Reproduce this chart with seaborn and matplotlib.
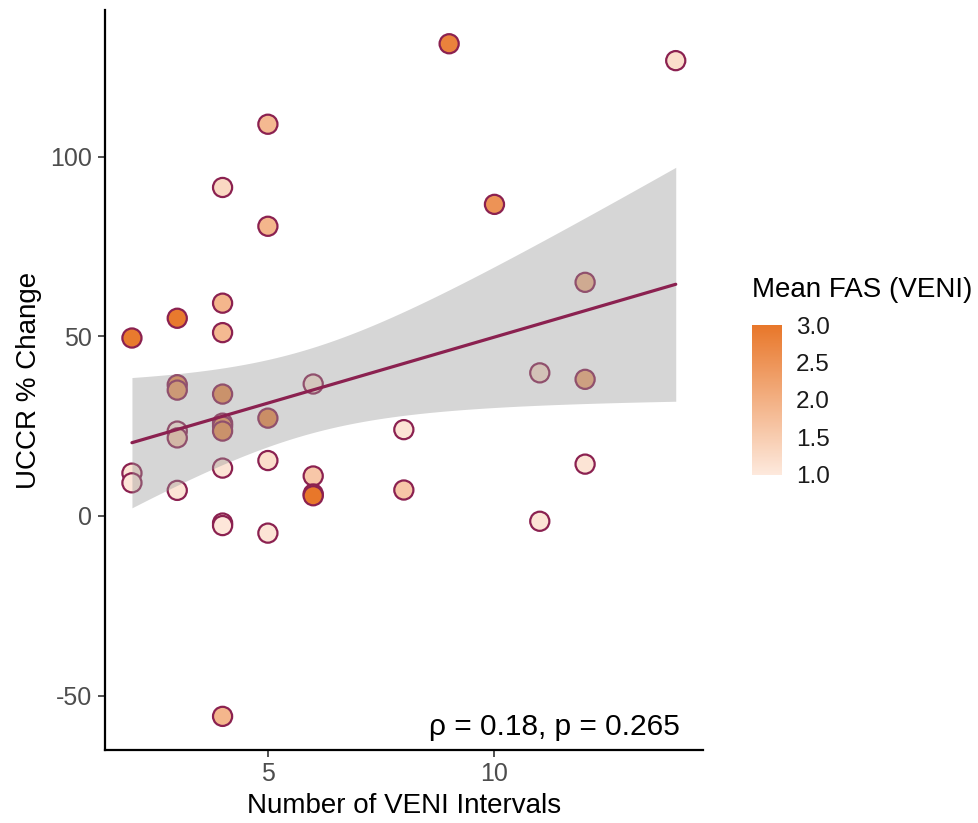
import numpy as np
import pandas as pd
import matplotlib
matplotlib.use("Agg")
import matplotlib.pyplot as plt
import seaborn as sns
from matplotlib.colors import LinearSegmentedColormap, Normalize
from matplotlib.cm import ScalarMappable

# ---- data ----
intervals = [2, 2, 2,
             3, 3, 3, 3, 3, 3,
             4, 4, 4, 4, 4, 4, 4, 4, 4, 4, 4,
             5, 5, 5, 5, 5,
             6, 6, 6, 6,
             8, 8,
             9,
             10,
             11, 11,
             12, 12, 12,
             14]
uccr = [11.9, 9.2, 49.5,
        55.0, 36.5, 35.0, 23.6, 21.7, 7.1,
        91.4, 59.2, 51.0, 33.9, 25.8, 25.0, 23.6, 13.3, -2.0, -2.7, -55.8,
        109.0, 80.6, 27.2, 15.4, -4.8,
        36.7, 11.1, 6.1, 5.6,
        24.0, 7.2,
        131.4,
        86.7,
        39.8, -1.5,
        65.0, 38.0, 14.4,
        126.7]
mean_fas = [1.1, 1.05, 2.95,
            2.95, 2.6, 2.4, 1.0, 1.5, 1.1,
            1.3, 1.9, 1.85, 2.6, 1.6, 2.5, 2.6, 1.1, 1.1, 1.05, 1.9,
            1.85, 1.9, 2.7, 1.2, 1.1,
            1.1, 1.6, 2.9, 3.0,
            1.1, 1.6,
            2.8,
            2.5,
            1.2, 1.1,
            1.9, 2.2, 1.1,
            1.2]
x_ticks = [5, 10]
y_ticks = [-50, 0, 50, 100]
cbar_ticks = [1.0, 1.5, 2.0, 2.5, 3.0]
annot_text = "\u03c1 = 0.18, p = 0.265"
xlabel = "Number of VENI Intervals"
ylabel = "UCCR % Change"
legend_title = "Mean FAS (VENI)"

df = pd.DataFrame({"intervals": intervals, "uccr": uccr, "fas": mean_fas})

sns.set_theme(style="white")
plt.rcParams["font.family"] = ["Liberation Sans", "DejaVu Sans"]
plt.rcParams["axes.unicode_minus"] = False

low_c, high_c = "#FDE9DD", "#E8772A"
edge_c = "#8B2150"
cmap = LinearSegmentedColormap.from_list("fas", [low_c, high_c])
norm = Normalize(vmin=min(mean_fas), vmax=max(mean_fas))

fig = plt.figure(figsize=(9.79, 8.23), dpi=100)
ax = fig.add_axes([0.107, 0.0887, 0.611, 0.899])

sns.scatterplot(data=df, x="intervals", y="uccr", hue="fas", palette=cmap,
                hue_norm=norm, s=190, edgecolor=edge_c, linewidth=1.6,
                legend=False, ax=ax, zorder=2)

# linear fit with analytic 95% CI (like geom_smooth(method = "lm"))
xv = np.asarray(intervals, float)
yv = np.asarray(uccr, float)
n = len(xv)
b1, b0 = np.polyfit(xv, yv, 1)
resid = yv - (b0 + b1 * xv)
s_err = np.sqrt(np.sum(resid ** 2) / (n - 2))
try:
    from scipy import stats
    tval = stats.t.ppf(0.975, n - 2)
except Exception:
    tval = 2.026
grid = np.linspace(xv.min(), xv.max(), 200)
pred = b0 + b1 * grid
se = s_err * np.sqrt(1.0 / n + (grid - xv.mean()) ** 2 / np.sum((xv - xv.mean()) ** 2))
ax.fill_between(grid, pred - tval * se, pred + tval * se, color="#999999",
                alpha=0.4, linewidth=0, zorder=3)
sns.regplot(data=df, x="intervals", y="uccr", scatter=False, ci=None,
            truncate=True, line_kws=dict(color=edge_c, lw=2.3, zorder=4), ax=ax)

# axes ranges like ggplot expansion
xr = xv.max() - xv.min()
yr = yv.max() - yv.min()
ax.set_xlim(xv.min() - 0.05 * xr, xv.max() + 0.05 * xr)
ax.set_ylim(yv.min() - 0.05 * yr, yv.max() + 0.05 * yr)
ax.set_xticks(x_ticks)
ax.set_yticks(y_ticks)
ax.set_xlabel(xlabel, fontsize=20, color="black", labelpad=5)
ax.set_ylabel(ylabel, fontsize=20, color="black", labelpad=6)
ax.tick_params(axis="both", labelsize=18, labelcolor="#4D4D4D", color="#333333",
               length=5, width=1.2, direction="out", bottom=True, left=True, pad=4)
sns.despine(ax=ax)
for sp in ("left", "bottom"):
    ax.spines[sp].set_color("black")
    ax.spines[sp].set_linewidth(1.6)

ax.text(0.962, 0.012, annot_text, transform=ax.transAxes, ha="right",
        va="bottom", fontsize=21.5, color="black")

# colorbar legend
cax = fig.add_axes([0.768, 0.423, 0.031, 0.182])
sm = ScalarMappable(norm=norm, cmap=cmap)
cb = fig.colorbar(sm, cax=cax, ticks=cbar_ticks)
cb.outline.set_visible(False)
cb.ax.set_yticklabels([f"{t:.1f}" for t in cbar_ticks])
cb.ax.tick_params(direction="in", color="white", length=6, width=1,
                  left=True, right=True, labelsize=17.5, labelcolor="#1A1A1A", pad=10)
fig.text(0.768, 0.632, legend_title, fontsize=20, color="black",
         ha="left", va="bottom")

fig.savefig("out.png", dpi=100)
